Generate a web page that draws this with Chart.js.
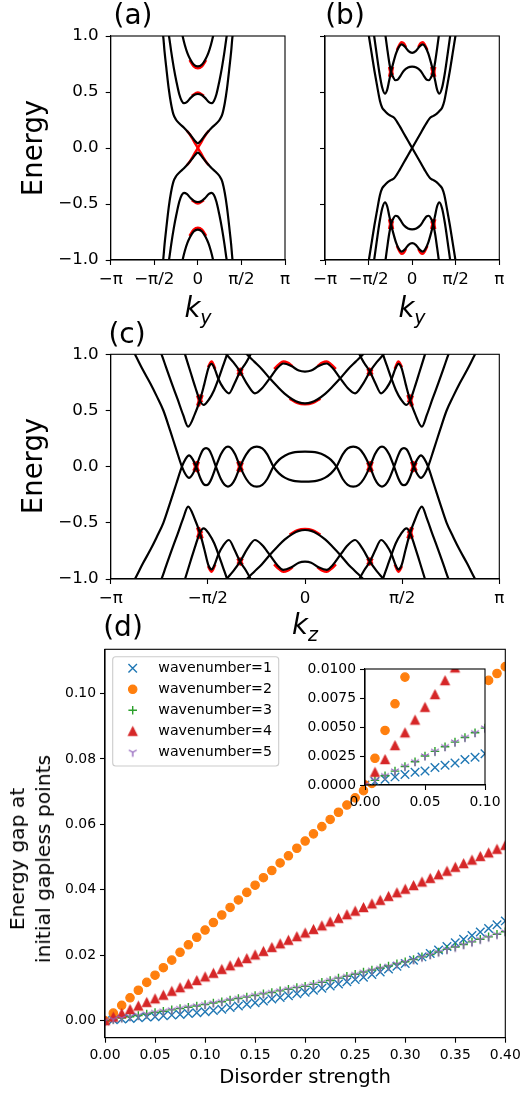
<!DOCTYPE html>
<html>
<head>
<meta charset="utf-8">
<title>Band structures and disorder gaps</title>
<script src="https://cdn.jsdelivr.net/npm/chart.js@4.4.1/dist/chart.umd.min.js"></script>
<style>
  html, body { margin: 0; padding: 0; background: #fff; }
  body { position: relative; width: 522px; height: 1096px; overflow: hidden; font-family: "DejaVu Sans", sans-serif; color: #000; }
  canvas { position: absolute; left: 0; top: 0; }
  .t { position: absolute; transform: translate(-50%, -50%); line-height: 1; white-space: nowrap; }
  .r { transform: translate(-50%, -50%) rotate(-90deg); text-align: center; }
  .k { font-style: italic; }
  .k span { font-size: 19px; position: relative; top: 7px; }
</style>
</head>
<body>
<canvas id="panelA" width="522" height="1096"></canvas>
<canvas id="panelB" width="522" height="1096"></canvas>
<canvas id="panelC" width="522" height="1096"></canvas>
<canvas id="panelD" width="522" height="1096"></canvas>
<canvas id="panelInset" width="522" height="1096"></canvas>

<div class="t" style="left:133px;top:15px;font-size:28px">(a)</div>
<div class="t" style="left:345px;top:15px;font-size:28px">(b)</div>
<div class="t" style="left:127px;top:334px;font-size:28px">(c)</div>
<div class="t" style="left:123px;top:627px;font-size:28px">(d)</div>
<div class="t r" style="left:33px;top:148px;font-size:27.5px">Energy</div>
<div class="t r" style="left:33px;top:466px;font-size:27.5px">Energy</div>
<div class="t k" style="left:198px;top:308px;font-size:27.5px">k<span>y</span></div>
<div class="t k" style="left:412px;top:308px;font-size:27.5px">k<span>y</span></div>
<div class="t k" style="left:305px;top:625px;font-size:27.5px">k<span>z</span></div>
<div class="t" style="left:305px;top:1077px;font-size:19.6px">Disorder strength</div>
<div class="t r" style="left:30px;top:859px;font-size:20.3px;line-height:26px">Energy gap at<br>initial gapless points</div>

<script>
const FONT = '"DejaVu Sans", sans-serif';
const W = 522, H = 1096;

// tick positions and labels
const kTicks = [-Math.PI, -Math.PI / 2, 0, Math.PI / 2, Math.PI];
const kTickLabels = ['−π', '−π/2', '0', 'π/2', 'π'];
const eTicks = [-1, -0.5, 0, 0.5, 1];
const eTickLabels = ['−1.0', '−0.5', '0.0', '0.5', '1.0'];
const noLabels = ['', '', '', '', ''];
const gapTicksX = [0, 0.05, 0.1, 0.15, 0.2, 0.25, 0.3, 0.35, 0.4];
const gapTickLabelsX = ['0.00', '0.05', '0.10', '0.15', '0.20', '0.25', '0.30', '0.35', '0.40'];
const gapTicksY = [0, 0.02, 0.04, 0.06, 0.08, 0.1];
const gapTickLabelsY = ['0.00', '0.02', '0.04', '0.06', '0.08', '0.10'];
const insetTicksX = [0, 0.05, 0.1];
const insetTickLabelsX = ['0.00', '0.05', '0.10'];
const insetTicksY = [0, 0.0025, 0.005, 0.0075, 0.01];
const insetTickLabelsY = ['0.0000', '0.0025', '0.0050', '0.0075', '0.0100'];

// ---- (a) bands, [k, E] ----
const aUpper1 = [[-1.32,1.10],[-1.25,1.00],[-1.20,0.86],[-1.13,0.70],[-1.05,0.53],[-0.97,0.40],[-0.88,0.30],[-0.78,0.25],[-0.65,0.215],[-0.50,0.18],[-0.35,0.14],[-0.20,0.095],[-0.10,0.062],[0,0.042],[0.10,0.062],[0.20,0.095],[0.35,0.14],[0.50,0.18],[0.65,0.215],[0.78,0.25],[0.88,0.30],[0.97,0.40],[1.05,0.53],[1.13,0.70],[1.20,0.86],[1.25,1.00],[1.32,1.10]];
const aLower1 = [[-1.32,-1.10],[-1.25,-1.00],[-1.20,-0.86],[-1.13,-0.70],[-1.05,-0.53],[-0.97,-0.40],[-0.88,-0.30],[-0.78,-0.25],[-0.65,-0.215],[-0.50,-0.18],[-0.35,-0.14],[-0.20,-0.095],[-0.10,-0.062],[0,-0.042],[0.10,-0.062],[0.20,-0.095],[0.35,-0.14],[0.50,-0.18],[0.65,-0.215],[0.78,-0.25],[0.88,-0.30],[0.97,-0.40],[1.05,-0.53],[1.13,-0.70],[1.20,-0.86],[1.25,-1.00],[1.32,-1.10]];
const aUpper2 = [[-1.10,1.08],[-1.04,1.00],[-0.96,0.86],[-0.87,0.72],[-0.77,0.59],[-0.67,0.48],[-0.58,0.42],[-0.50,0.40],[-0.40,0.41],[-0.25,0.45],[-0.12,0.475],[0,0.482],[0.12,0.475],[0.25,0.45],[0.40,0.41],[0.50,0.40],[0.58,0.42],[0.67,0.48],[0.77,0.59],[0.87,0.72],[0.96,0.86],[1.04,1.00],[1.10,1.08]];
const aLower2 = [[-1.10,-1.08],[-1.04,-1.00],[-0.96,-0.86],[-0.87,-0.72],[-0.77,-0.59],[-0.67,-0.48],[-0.58,-0.42],[-0.50,-0.40],[-0.40,-0.41],[-0.25,-0.45],[-0.12,-0.475],[0,-0.482],[0.12,-0.475],[0.25,-0.45],[0.40,-0.41],[0.50,-0.40],[0.58,-0.42],[0.67,-0.48],[0.77,-0.59],[0.87,-0.72],[0.96,-0.86],[1.04,-1.00],[1.10,-1.08]];
const aUpper3 = [[-0.60,1.06],[-0.55,1.00],[-0.47,0.92],[-0.38,0.85],[-0.28,0.795],[-0.15,0.745],[0,0.728],[0.15,0.745],[0.28,0.795],[0.38,0.85],[0.47,0.92],[0.55,1.00],[0.60,1.06]];
const aLower3 = [[-0.60,-1.06],[-0.55,-1.00],[-0.47,-0.92],[-0.38,-0.85],[-0.28,-0.795],[-0.15,-0.745],[0,-0.728],[0.15,-0.745],[0.28,-0.795],[0.38,-0.85],[0.47,-0.92],[0.55,-1.00],[0.60,-1.06]];
// clean-limit (red) curves where they part from the black ones
const aRed = [
  [[-0.40,0.155],[-0.30,0.125],[-0.20,0.085],[-0.10,0.042],[0,0],[0.10,-0.042],[0.20,-0.085],[0.30,-0.125],[0.40,-0.155]],
  [[-0.40,-0.155],[-0.30,-0.125],[-0.20,-0.085],[-0.10,-0.042],[0,0],[0.10,0.042],[0.20,0.085],[0.30,0.125],[0.40,0.155]],
  [[-0.30,0.785],[-0.15,0.73],[0,0.712],[0.15,0.73],[0.30,0.785]],
  [[-0.30,-0.785],[-0.15,-0.73],[0,-0.712],[0.15,-0.73],[0.30,-0.785]],
  [[-0.22,0.465],[0,0.495],[0.22,0.465]],
  [[-0.22,-0.465],[0,-0.495],[0.22,-0.465]]
];

// ---- (b) bands ----
const bCross1 = [[-1.62,1.10],[-1.56,1.00],[-1.46,0.845],[-1.36,0.69],[-1.26,0.55],[-1.16,0.42],[-1.08,0.36],[-1.00,0.335],[-0.88,0.305],[-0.75,0.285],[-0.65,0.27],[-0.56,0.24],[-0.45,0.195],[-0.30,0.13],[-0.15,0.065],[0,0],[0.15,-0.065],[0.30,-0.13],[0.45,-0.195],[0.56,-0.24],[0.65,-0.27],[0.75,-0.285],[0.88,-0.305],[1.00,-0.335],[1.08,-0.36],[1.16,-0.42],[1.26,-0.55],[1.36,-0.69],[1.46,-0.845],[1.56,-1.00],[1.62,-1.10]];
const bCross2 = [[-1.62,-1.10],[-1.56,-1.00],[-1.46,-0.845],[-1.36,-0.69],[-1.26,-0.55],[-1.16,-0.42],[-1.08,-0.36],[-1.00,-0.335],[-0.88,-0.305],[-0.75,-0.285],[-0.65,-0.27],[-0.56,-0.24],[-0.45,-0.195],[-0.30,-0.13],[-0.15,-0.065],[0,0],[0.15,0.065],[0.30,0.13],[0.45,0.195],[0.56,0.24],[0.65,0.27],[0.75,0.285],[0.88,0.305],[1.00,0.335],[1.08,0.36],[1.16,0.42],[1.26,0.55],[1.36,0.69],[1.46,0.845],[1.56,1.00],[1.62,1.10]];
const bUpperV = [[-1.42,1.08],[-1.37,1.00],[-1.28,0.84],[-1.18,0.67],[-1.08,0.54],[-0.98,0.485],[-0.90,0.52],[-0.83,0.60],[-0.76,0.68],[-0.68,0.76],[-0.58,0.845],[-0.48,0.90],[-0.38,0.925],[-0.26,0.905],[-0.13,0.865],[0,0.85],[0.13,0.865],[0.26,0.905],[0.38,0.925],[0.48,0.90],[0.58,0.845],[0.68,0.76],[0.76,0.68],[0.83,0.60],[0.90,0.52],[0.98,0.485],[1.08,0.54],[1.18,0.67],[1.28,0.84],[1.37,1.00],[1.42,1.08]];
const bLowerV = [[-1.42,-1.08],[-1.37,-1.00],[-1.28,-0.84],[-1.18,-0.67],[-1.08,-0.54],[-0.98,-0.485],[-0.90,-0.52],[-0.83,-0.60],[-0.76,-0.68],[-0.68,-0.76],[-0.58,-0.845],[-0.48,-0.90],[-0.38,-0.925],[-0.26,-0.905],[-0.13,-0.865],[0,-0.85],[0.13,-0.865],[0.26,-0.905],[0.38,-0.925],[0.48,-0.90],[0.58,-0.845],[0.68,-0.76],[0.76,-0.68],[0.83,-0.60],[0.90,-0.52],[0.98,-0.485],[1.08,-0.54],[1.18,-0.67],[1.28,-0.84],[1.37,-1.00],[1.42,-1.08]];
const bUpperW = [[-1.00,1.07],[-0.96,1.00],[-0.90,0.89],[-0.83,0.77],[-0.76,0.68],[-0.68,0.63],[-0.60,0.605],[-0.52,0.61],[-0.42,0.645],[-0.30,0.69],[-0.15,0.718],[0,0.726],[0.15,0.718],[0.30,0.69],[0.42,0.645],[0.52,0.61],[0.60,0.605],[0.68,0.63],[0.76,0.68],[0.83,0.77],[0.90,0.89],[0.96,1.00],[1.00,1.07]];
const bLowerW = [[-1.00,-1.07],[-0.96,-1.00],[-0.90,-0.89],[-0.83,-0.77],[-0.76,-0.68],[-0.68,-0.63],[-0.60,-0.605],[-0.52,-0.61],[-0.42,-0.645],[-0.30,-0.69],[-0.15,-0.718],[0,-0.726],[0.15,-0.718],[0.30,-0.69],[0.42,-0.645],[0.52,-0.61],[0.60,-0.605],[0.68,-0.63],[0.76,-0.68],[0.83,-0.77],[0.90,-0.89],[0.96,-1.00],[1.00,-1.07]];
const bRed = [
  [[-0.55,0.875],[-0.45,0.925],[-0.38,0.945],[-0.30,0.935],[-0.22,0.90]],
  [[0.22,0.90],[0.30,0.935],[0.38,0.945],[0.45,0.925],[0.55,0.875]],
  [[-0.55,-0.875],[-0.45,-0.925],[-0.38,-0.945],[-0.30,-0.935],[-0.22,-0.90]],
  [[0.22,-0.90],[0.30,-0.935],[0.38,-0.945],[0.45,-0.925],[0.55,-0.875]]
];
const bHalo = [
  [[-0.80,0.635],[-0.76,0.68],[-0.72,0.725]], [[-0.80,0.725],[-0.76,0.68],[-0.72,0.65]],
  [[0.72,0.725],[0.76,0.68],[0.80,0.635]], [[0.72,0.65],[0.76,0.68],[0.80,0.725]],
  [[-0.80,-0.635],[-0.76,-0.68],[-0.72,-0.725]], [[-0.80,-0.725],[-0.76,-0.68],[-0.72,-0.65]],
  [[0.72,-0.725],[0.76,-0.68],[0.80,-0.635]], [[0.72,-0.65],[0.76,-0.68],[0.80,-0.725]]
];

// ---- (c) bands along kz ----
const cP = [[-2.85,1.10],[-2.75,1.00],[-2.62,0.86],[-2.50,0.74],[-2.40,0.63],[-2.29,0.50],[-2.18,0.32],[-2.08,0.15],[-1.99,0],[-1.93,-0.07],[-1.875,-0.10],[-1.82,-0.07],[-1.76,0],[-1.69,0.105],[-1.645,0.152],[-1.60,0.165],[-1.555,0.152],[-1.51,0.105],[-1.44,0],[-1.36,-0.11],[-1.30,-0.162],[-1.245,-0.178],[-1.19,-0.162],[-1.13,-0.11],[-1.05,0],[-0.95,0.11],[-0.87,0.162],[-0.78,0.178],[-0.69,0.162],[-0.61,0.11],[-0.51,0],[-0.42,-0.06],[-0.32,-0.10],[-0.20,-0.125],[0,-0.134],[0.20,-0.125],[0.32,-0.10],[0.42,-0.06],[0.51,0],[0.61,0.11],[0.69,0.162],[0.78,0.178],[0.87,0.162],[0.95,0.11],[1.05,0],[1.13,-0.11],[1.19,-0.162],[1.245,-0.178],[1.30,-0.162],[1.36,-0.11],[1.44,0],[1.51,0.105],[1.555,0.152],[1.60,0.165],[1.645,0.152],[1.69,0.105],[1.76,0],[1.82,-0.07],[1.875,-0.10],[1.93,-0.07],[1.99,0],[2.08,0.15],[2.18,0.32],[2.29,0.50],[2.40,0.63],[2.50,0.74],[2.62,0.86],[2.75,1.00],[2.85,1.10]];
const cQ = [[-2.85,-1.10],[-2.75,-1.00],[-2.62,-0.86],[-2.50,-0.74],[-2.40,-0.63],[-2.29,-0.50],[-2.18,-0.32],[-2.08,-0.15],[-1.99,0],[-1.93,0.07],[-1.875,0.10],[-1.82,0.07],[-1.76,0],[-1.69,-0.105],[-1.645,-0.152],[-1.60,-0.165],[-1.555,-0.152],[-1.51,-0.105],[-1.44,0],[-1.36,0.11],[-1.30,0.162],[-1.245,0.178],[-1.19,0.162],[-1.13,0.11],[-1.05,0],[-0.95,-0.11],[-0.87,-0.162],[-0.78,-0.178],[-0.69,-0.162],[-0.61,-0.11],[-0.51,0],[-0.42,0.06],[-0.32,0.10],[-0.20,0.125],[0,0.134],[0.20,0.125],[0.32,0.10],[0.42,0.06],[0.51,0],[0.61,-0.11],[0.69,-0.162],[0.78,-0.178],[0.87,-0.162],[0.95,-0.11],[1.05,0],[1.13,0.11],[1.19,0.162],[1.245,0.178],[1.30,0.162],[1.36,0.11],[1.44,0],[1.51,-0.105],[1.555,-0.152],[1.60,-0.165],[1.645,-0.152],[1.69,-0.105],[1.76,0],[1.82,0.07],[1.875,0.10],[1.93,0.07],[1.99,0],[2.08,-0.15],[2.18,-0.32],[2.29,-0.50],[2.40,-0.63],[2.50,-0.74],[2.62,-0.86],[2.75,-1.00],[2.85,-1.10]];
const cU0 = [[-1.00,1.04],[-0.94,1.00],[-0.82,0.935],[-0.70,0.87],[-0.57,0.786],[-0.45,0.715],[-0.33,0.65],[-0.20,0.598],[-0.10,0.572],[0,0.564],[0.10,0.572],[0.20,0.598],[0.33,0.65],[0.45,0.715],[0.57,0.786],[0.70,0.87],[0.82,0.935],[0.94,1.00],[1.00,1.04]];
const cU0n = [[-1.00,-1.04],[-0.94,-1.00],[-0.82,-0.935],[-0.70,-0.87],[-0.57,-0.786],[-0.45,-0.715],[-0.33,-0.65],[-0.20,-0.598],[-0.10,-0.572],[0,-0.564],[0.10,-0.572],[0.20,-0.598],[0.33,-0.65],[0.45,-0.715],[0.57,-0.786],[0.70,-0.87],[0.82,-0.935],[0.94,-1.00],[1.00,-1.04]];
const cG = [[-1.35,1.06],[-1.27,1.00],[-1.16,0.93],[-1.05,0.846],[-0.93,0.73],[-0.81,0.653],[-0.69,0.70],[-0.57,0.786],[-0.45,0.875],[-0.35,0.918],[-0.22,0.895],[-0.10,0.855],[0,0.846],[0.10,0.855],[0.22,0.895],[0.35,0.918],[0.45,0.875],[0.57,0.786],[0.69,0.70],[0.81,0.653],[0.93,0.73],[1.05,0.846],[1.16,0.93],[1.27,1.00],[1.35,1.06]];
const cGn = [[-1.35,-1.06],[-1.27,-1.00],[-1.16,-0.93],[-1.05,-0.846],[-0.93,-0.73],[-0.81,-0.653],[-0.69,-0.70],[-0.57,-0.786],[-0.45,-0.875],[-0.35,-0.918],[-0.22,-0.895],[-0.10,-0.855],[0,-0.846],[0.10,-0.855],[0.22,-0.895],[0.35,-0.918],[0.45,-0.875],[0.57,-0.786],[0.69,-0.70],[0.81,-0.653],[0.93,-0.73],[1.05,-0.846],[1.16,-0.93],[1.27,-1.00],[1.35,-1.06]];
const cA = [[0.84,1.06],[0.88,1.00],[0.96,0.92],[1.05,0.846],[1.14,0.74],[1.23,0.653],[1.32,0.70],[1.40,0.78],[1.46,0.87],[1.51,0.915],[1.56,0.88],[1.63,0.73],[1.70,0.59],[1.78,0.47],[1.89,0.356],[1.97,0.46],[2.06,0.60],[2.16,0.75],[2.25,0.89],[2.32,1.00],[2.40,1.10]];
const cAm = [[-2.40,1.10],[-2.32,1.00],[-2.25,0.89],[-2.16,0.75],[-2.06,0.60],[-1.97,0.46],[-1.89,0.356],[-1.78,0.47],[-1.70,0.59],[-1.63,0.73],[-1.56,0.88],[-1.51,0.915],[-1.46,0.87],[-1.40,0.78],[-1.32,0.70],[-1.23,0.653],[-1.14,0.74],[-1.05,0.846],[-0.96,0.92],[-0.88,1.00],[-0.84,1.06]];
const cAn = [[0.84,-1.06],[0.88,-1.00],[0.96,-0.92],[1.05,-0.846],[1.14,-0.74],[1.23,-0.653],[1.32,-0.70],[1.40,-0.78],[1.46,-0.87],[1.51,-0.915],[1.56,-0.88],[1.63,-0.73],[1.70,-0.59],[1.78,-0.47],[1.89,-0.356],[1.97,-0.46],[2.06,-0.60],[2.16,-0.75],[2.25,-0.89],[2.32,-1.00],[2.40,-1.10]];
const cAmn = [[-2.40,-1.10],[-2.32,-1.00],[-2.25,-0.89],[-2.16,-0.75],[-2.06,-0.60],[-1.97,-0.46],[-1.89,-0.356],[-1.78,-0.47],[-1.70,-0.59],[-1.63,-0.73],[-1.56,-0.88],[-1.51,-0.915],[-1.46,-0.87],[-1.40,-0.78],[-1.32,-0.70],[-1.23,-0.653],[-1.14,-0.74],[-1.05,-0.846],[-0.96,-0.92],[-0.88,-1.00],[-0.84,-1.06]];
const cB = [[1.20,1.10],[1.26,1.00],[1.33,0.89],[1.40,0.78],[1.47,0.68],[1.55,0.60],[1.64,0.55],[1.70,0.59],[1.77,0.70],[1.85,0.84],[1.94,1.00],[2.00,1.10]];
const cBm = [[-2.00,1.10],[-1.94,1.00],[-1.85,0.84],[-1.77,0.70],[-1.70,0.59],[-1.64,0.55],[-1.55,0.60],[-1.47,0.68],[-1.40,0.78],[-1.33,0.89],[-1.26,1.00],[-1.20,1.10]];
const cBn = [[1.20,-1.10],[1.26,-1.00],[1.33,-0.89],[1.40,-0.78],[1.47,-0.68],[1.55,-0.60],[1.64,-0.55],[1.70,-0.59],[1.77,-0.70],[1.85,-0.84],[1.94,-1.00],[2.00,-1.10]];
const cBmn = [[-2.00,-1.10],[-1.94,-1.00],[-1.85,-0.84],[-1.77,-0.70],[-1.70,-0.59],[-1.64,-0.55],[-1.55,-0.60],[-1.47,-0.68],[-1.40,-0.78],[-1.33,-0.89],[-1.26,-1.00],[-1.20,-1.10]];
const cRed = [
  [[-0.50,0.87],[-0.42,0.912],[-0.35,0.935],[-0.28,0.925],[-0.20,0.895]],
  [[0.20,0.895],[0.28,0.925],[0.35,0.935],[0.42,0.912],[0.50,0.87]],
  [[-0.50,-0.87],[-0.42,-0.912],[-0.35,-0.935],[-0.28,-0.925],[-0.20,-0.895]],
  [[0.20,-0.895],[0.28,-0.925],[0.35,-0.935],[0.42,-0.912],[0.50,-0.87]],
  [[-1.57,0.885],[-1.51,0.935],[-1.45,0.87]], [[1.45,0.87],[1.51,0.935],[1.57,0.885]],
  [[-1.57,-0.885],[-1.51,-0.935],[-1.45,-0.87]], [[1.45,-0.87],[1.51,-0.935],[1.57,-0.885]],
  [[-0.25,0.605],[-0.12,0.565],[0,0.555],[0.12,0.565],[0.25,0.605]],
  [[-0.25,-0.605],[-0.12,-0.565],[0,-0.555],[0.12,-0.565],[0.25,-0.605]]
];
const cHalo = [
  [[-1.79,-0.04],[-1.76,0],[-1.73,0.045]], [[-1.79,0.04],[-1.76,0],[-1.73,-0.045]],
  [[1.73,0.045],[1.76,0],[1.79,-0.04]], [[1.73,-0.045],[1.76,0],[1.79,0.04]],
  [[-1.08,-0.045],[-1.05,0],[-1.02,0.04]], [[-1.08,0.045],[-1.05,0],[-1.02,-0.04]],
  [[1.02,0.04],[1.05,0],[1.08,-0.045]], [[1.02,-0.04],[1.05,0],[1.08,0.045]],
  [[1.67,0.64],[1.70,0.59],[1.73,0.54]], [[1.67,0.57],[1.70,0.59],[1.73,0.635]],
  [[-1.73,0.54],[-1.70,0.59],[-1.67,0.64]], [[-1.73,0.635],[-1.70,0.59],[-1.67,0.57]],
  [[1.67,-0.64],[1.70,-0.59],[1.73,-0.54]], [[1.67,-0.57],[1.70,-0.59],[1.73,-0.635]],
  [[-1.73,-0.54],[-1.70,-0.59],[-1.67,-0.64]], [[-1.73,-0.635],[-1.70,-0.59],[-1.67,-0.57]],
  [[1.02,0.815],[1.05,0.846],[1.08,0.87]], [[1.02,0.875],[1.05,0.846],[1.08,0.815]],
  [[-1.08,0.87],[-1.05,0.846],[-1.02,0.815]], [[-1.08,0.815],[-1.05,0.846],[-1.02,0.875]],
  [[1.02,-0.815],[1.05,-0.846],[1.08,-0.87]], [[1.02,-0.875],[1.05,-0.846],[1.08,-0.815]],
  [[-1.08,-0.87],[-1.05,-0.846],[-1.02,-0.815]], [[-1.08,-0.815],[-1.05,-0.846],[-1.02,-0.875]]
];

// ---- (d) gap at the former crossing points vs disorder ----
const strength = [0,0.0083,0.0167,0.025,0.0333,0.0417,0.05,0.0583,0.0667,0.075,0.0833,0.0917,0.1,0.1083,0.1167,0.125,0.1333,0.1417,0.15,0.1583,0.1667,0.175,0.1833,0.1917,0.2,0.2083,0.2167,0.225,0.2333,0.2417,0.25,0.2583,0.2667,0.275,0.2833,0.2917,0.3,0.3083,0.3167,0.325,0.3333,0.3417,0.35,0.3583,0.3667,0.375,0.3833,0.3917,0.4];
const gapWave1 = [0,0.0003,0.0005,0.0007,0.0009,0.0011,0.0012,0.0015,0.0017,0.0019,0.0022,0.0024,0.0027,0.0031,0.0035,0.0040,0.0045,0.0050,0.0055,0.0060,0.0066,0.0071,0.0076,0.0082,0.0087,0.0093,0.0099,0.0106,0.0112,0.0119,0.0126,0.0133,0.0141,0.0149,0.0158,0.0166,0.0175,0.0185,0.0195,0.0205,0.0216,0.0227,0.0238,0.0249,0.0260,0.0271,0.0282,0.0293,0.0305];
const gapWave2 = [0,0.0023,0.0047,0.0070,0.0093,0.0117,0.0139,0.0162,0.0185,0.0209,0.0232,0.0255,0.0277,0.0300,0.0323,0.0346,0.0369,0.0392,0.0414,0.0437,0.0459,0.0482,0.0504,0.0527,0.0549,0.0571,0.0593,0.0615,0.0637,0.0659,0.0681,0.0703,0.0725,0.0748,0.0770,0.0793,0.0815,0.0838,0.0860,0.0883,0.0905,0.0928,0.0950,0.0973,0.0995,0.1018,0.1040,0.1061,0.1082];
const gapWave3 = [0,0.0004,0.0008,0.0012,0.0016,0.0020,0.0025,0.0029,0.0033,0.0037,0.0041,0.0045,0.0049,0.0054,0.0058,0.0063,0.0068,0.0072,0.0077,0.0082,0.0086,0.0091,0.0096,0.0101,0.0105,0.0111,0.0117,0.0123,0.0130,0.0136,0.0142,0.0149,0.0155,0.0161,0.0167,0.0174,0.0180,0.0187,0.0195,0.0202,0.0210,0.0218,0.0225,0.0233,0.0241,0.0249,0.0256,0.0264,0.0272];
const gapWave4 = [0,0.0011,0.0022,0.0034,0.0045,0.0056,0.0067,0.0078,0.0090,0.0101,0.0112,0.0123,0.0134,0.0145,0.0157,0.0168,0.0179,0.0190,0.0201,0.0212,0.0224,0.0235,0.0246,0.0257,0.0268,0.0279,0.0290,0.0302,0.0313,0.0324,0.0335,0.0346,0.0357,0.0368,0.0380,0.0391,0.0402,0.0413,0.0424,0.0435,0.0446,0.0457,0.0469,0.0480,0.0491,0.0502,0.0513,0.0524,0.0536];
const gapWave5 = [0,0.0004,0.0008,0.0012,0.0016,0.0020,0.0025,0.0029,0.0033,0.0037,0.0041,0.0045,0.0049,0.0054,0.0058,0.0063,0.0068,0.0072,0.0077,0.0082,0.0086,0.0091,0.0096,0.0101,0.0105,0.0111,0.0117,0.0123,0.0129,0.0135,0.0141,0.0148,0.0154,0.0160,0.0166,0.0173,0.0179,0.0186,0.0194,0.0201,0.0209,0.0217,0.0224,0.0232,0.0240,0.0248,0.0255,0.0263,0.0271];
const waveLabels = ['wavenumber=1', 'wavenumber=2', 'wavenumber=3', 'wavenumber=4', 'wavenumber=5'];

// small marker sprites in the matplotlib shapes: '^' (filled) and '1' (tri-down)
function sprite(size, paint) {
  const c = document.createElement('canvas');
  c.width = size; c.height = size;
  paint(c.getContext('2d'), size / 2);
  return c;
}
function triUp(color, h, lw) {
  return sprite(Math.ceil(h + 2 * lw + 2), (g, m) => {
    g.fillStyle = color; g.strokeStyle = color; g.lineWidth = lw; g.lineJoin = 'miter';
    g.beginPath();
    g.moveTo(m, m - h / 2); g.lineTo(m + h / 2, m + h / 2); g.lineTo(m - h / 2, m + h / 2); g.closePath();
    g.fill(); g.stroke();
  });
}
function triDown(color, r, lw) {
  return sprite(Math.ceil(2 * r + 2 * lw), (g, m) => {
    g.strokeStyle = color; g.lineWidth = lw;
    g.beginPath();
    g.moveTo(m, m); g.lineTo(m, m + r);
    g.moveTo(m, m); g.lineTo(m - r * 0.866, m - r * 0.5);
    g.moveTo(m, m); g.lineTo(m + r * 0.866, m - r * 0.5);
    g.stroke();
  });
}

const styles = [
  { color: '#1f77b4', pointStyle: 'crossRot', r: 6.0, fill: false, bw: 1.4 },
  { color: '#ff7f0e', pointStyle: 'circle', r: 4.2, fill: true, bw: 1.2 },
  { color: '#2ca02c', pointStyle: 'cross', r: 4.3, fill: false, bw: 1.4 },
  { color: '#d62728', pointStyle: triUp('#d62728', 8.3, 1.3), r: 5, fill: true, bw: 0 },
  { color: '#9467bd', pointStyle: triDown('#9467bd', 4.5, 1.4), r: 4.5, fill: false, bw: 1.4 }
];

// axis with fixed ticks and a fixed box size so the plot area lands where it should
function axis(min, max, ticks, labels, size, pad, horizontal, box) {
  return {
    type: 'linear', min, max,
    afterBuildTicks: s => { s.ticks = ticks.map(v => ({ value: v })); },
    afterFit: s => {
      if (horizontal) { s.height = box; s.paddingLeft = 0; s.paddingRight = 0; }
      else { s.width = box; s.paddingTop = 0; s.paddingBottom = 0; }
    },
    ticks: { autoSkip: false, maxRotation: 0, minRotation: 0, padding: pad, color: '#000', font: { family: FONT, size }, callback: (v, i) => labels[i] },
    grid: { display: true, drawOnChartArea: false, drawTicks: true, tickLength: 5, tickColor: '#000', tickWidth: 1.1 },
    border: { display: true, color: '#000', width: 1.1 }
  };
}

const framePlugin = {
  id: 'frame',
  afterDatasetsDraw(chart) {
    const a = chart.chartArea, c = chart.ctx;
    c.save(); c.strokeStyle = '#000'; c.lineWidth = 1.1;
    c.strokeRect(a.left, a.top, a.right - a.left, a.bottom - a.top);
    c.restore();
  }
};
const whiteBg = {
  id: 'whiteBg',
  beforeDraw(chart) {
    const a = chart.chartArea, c = chart.ctx;
    c.save(); c.fillStyle = '#fff'; c.fillRect(a.left, a.top, a.right - a.left, a.bottom - a.top); c.restore();
  }
};

function lines(list, color, width, order) {
  return list.map(pts => ({
    data: pts.map(p => ({ x: p[0], y: p[1] })),
    showLine: true, borderColor: color, borderWidth: width, pointRadius: 0,
    cubicInterpolationMode: 'monotone', borderJoinStyle: 'round', clip: 0, order
  }));
}

function baseOptions(area, yw, xh, x, y) {
  return {
    responsive: false, animation: false, events: [],
    layout: { padding: { left: area.left - yw, top: area.top, right: W - area.right, bottom: H - area.bottom - xh } },
    plugins: { legend: { display: false }, tooltip: { enabled: false } },
    scales: { x, y }
  };
}

function bandChart(id, area, black, red, halo, yLabels) {
  const datasets = lines(halo, '#ff0000', 4.2, 3).concat(lines(red, '#ff0000', 2.5, 2), lines(black, '#000', 2.2, 1));
  return new Chart(document.getElementById(id), {
    type: 'scatter',
    data: { datasets },
    options: baseOptions(area, 70, 40,
      axis(-Math.PI, Math.PI, kTicks, kTickLabels, 16.7, 5, true, 40),
      axis(-1, 1, eTicks, yLabels, 16.7, 7, false, 70)),
    plugins: [framePlugin]
  });
}

bandChart('panelA', { left: 110.7, top: 36, right: 285, bottom: 260 },
  [aUpper1, aLower1, aUpper2, aLower2, aUpper3, aLower3], aRed, [], eTickLabels);
bandChart('panelB', { left: 325, top: 36, right: 499.3, bottom: 260 },
  [bCross1, bCross2, bUpperV, bLowerV, bUpperW, bLowerW], bRed, bHalo, noLabels);
bandChart('panelC', { left: 110.7, top: 354.3, right: 499.3, bottom: 579 },
  [cP, cQ, cU0, cU0n, cG, cGn, cA, cAm, cAn, cAmn, cB, cBm, cBn, cBmn], cRed, cHalo, eTickLabels);

// ---- (d) ----
const gapSeries = [gapWave1, gapWave2, gapWave3, gapWave4, gapWave5];
function markerSets() {
  return gapSeries.map((ys, i) => {
    const s = styles[i];
    return {
      data: strength.map((x, j) => ({ x, y: ys[j] })),
      showLine: false, pointStyle: s.pointStyle, pointRadius: s.r,
      pointBackgroundColor: s.fill ? s.color : 'rgba(0,0,0,0)', pointBorderColor: s.color,
      pointBorderWidth: s.bw, clip: 0, order: 5 - i
    };
  });
}

function drawMarker(c, s, x, y) {
  c.save();
  c.fillStyle = s.color; c.strokeStyle = s.color; c.lineWidth = s.bw;
  c.beginPath();
  if (s.pointStyle === 'circle') { c.arc(x, y, s.r, 0, 2 * Math.PI); c.fill(); c.stroke(); }
  else if (s.pointStyle === 'crossRot') {
    const d = s.r * 0.707;
    c.moveTo(x - d, y - d); c.lineTo(x + d, y + d); c.moveTo(x - d, y + d); c.lineTo(x + d, y - d); c.stroke();
  } else if (s.pointStyle === 'cross') {
    c.moveTo(x - s.r, y); c.lineTo(x + s.r, y); c.moveTo(x, y - s.r); c.lineTo(x, y + s.r); c.stroke();
  } else {
    c.drawImage(s.pointStyle, x - s.pointStyle.width / 2, y - s.pointStyle.height / 2);
  }
  c.restore();
}

const legendBox = {
  id: 'gapLegend',
  afterDatasetsDraw(chart) {
    const c = chart.ctx;
    const x0 = 112.7, y0 = 656.7, w = 166, h = 109.3, rad = 3;
    c.save();
    c.beginPath();
    c.moveTo(x0 + rad, y0); c.arcTo(x0 + w, y0, x0 + w, y0 + h, rad); c.arcTo(x0 + w, y0 + h, x0, y0 + h, rad);
    c.arcTo(x0, y0 + h, x0, y0, rad); c.arcTo(x0, y0, x0 + w, y0, rad); c.closePath();
    c.fillStyle = 'rgba(255,255,255,0.8)'; c.fill();
    c.strokeStyle = '#cccccc'; c.lineWidth = 1.1; c.stroke();
    c.font = '14.2px ' + FONT; c.fillStyle = '#000'; c.textBaseline = 'middle'; c.textAlign = 'left';
    waveLabels.forEach((lab, i) => {
      const y = 668.3 + i * 21;
      drawMarker(c, styles[i], 132.7, y);
      c.fillText(lab, 158.3, y + 0.5);
    });
    c.restore();
  }
};

const areaD = { left: 105, top: 649.3, right: 505.3, bottom: 1037.7 };
new Chart(document.getElementById('panelD'), {
  type: 'scatter',
  data: { datasets: markerSets() },
  options: baseOptions(areaD, 70, 40,
    axis(0, 0.4, gapTicksX, gapTickLabelsX, 13.9, 4, true, 40),
    axis(-0.0052, 0.1135, gapTicksY, gapTickLabelsY, 13.9, 4, false, 70)),
  plugins: [framePlugin, legendBox]
});

const areaInset = { left: 365, top: 669, right: 485, bottom: 785 };
new Chart(document.getElementById('panelInset'), {
  type: 'scatter',
  data: { datasets: markerSets() },
  options: baseOptions(areaInset, 70, 40,
    axis(0, 0.1, insetTicksX, insetTickLabelsX, 13.9, 4, true, 40),
    axis(0, 0.01, insetTicksY, insetTickLabelsY, 13.9, 4, false, 70)),
  plugins: [whiteBg, framePlugin]
});
</script>
</body>
</html>
